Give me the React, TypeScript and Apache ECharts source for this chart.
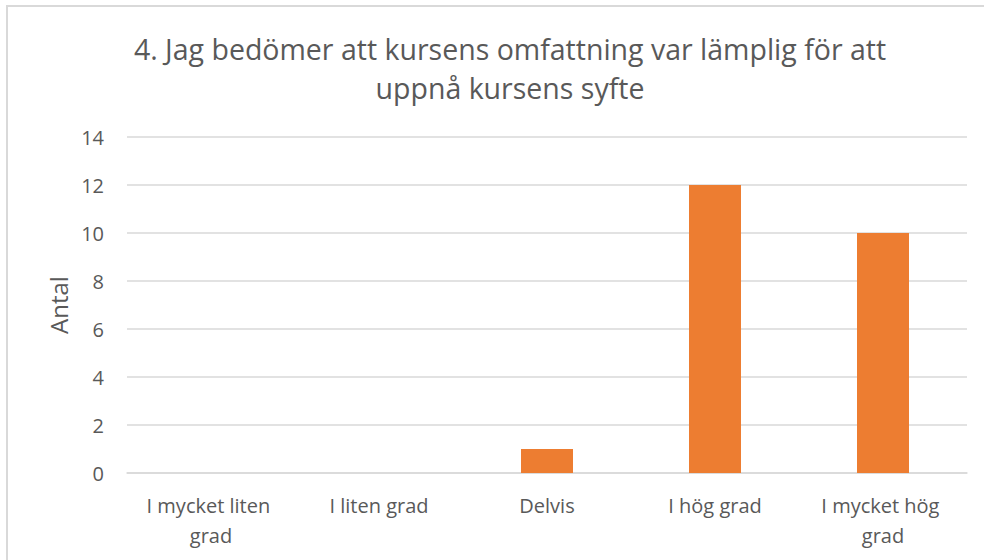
import React, { useEffect, useRef } from "react";
import * as echarts from "echarts";

const titleText = "4. Jag bedömer att kursens omfattning var lämplig för att\nuppnå kursens syfte";
const categories = ["I mycket liten grad", "I liten grad", "Delvis", "I hög grad", "I mycket hög grad"];
const values = [0, 0, 1, 12, 10];
const yAxisName = "Antal";

export default function App() {
  const ref = useRef<HTMLDivElement>(null);
  useEffect(() => {
    const chart = echarts.init(ref.current!, null, { renderer: "svg" });
    const font = "'Open Sans', sans-serif";
    chart.setOption({
      animation: false,
      backgroundColor: "#ffffff",
      title: {
        text: titleText,
        left: 505,
        textAlign: "center",
        top: 24,
        textStyle: { fontFamily: font, fontSize: 28.5, fontWeight: "normal", color: "#595959", lineHeight: 39 },
      },
      grid: { left: 127, right: 17, top: 137, bottom: 87 },
      xAxis: {
        type: "category",
        data: categories,
        axisLine: { show: true, lineStyle: { color: "#d9d9d9", width: 1.5 } },
        axisTick: { show: false },
        axisLabel: {
          interval: 0,
          color: "#595959",
          fontFamily: font,
          fontSize: 20,
          margin: 17,
          lineHeight: 30,
          width: 150,
          overflow: "break",
        },
      },
      yAxis: {
        type: "value",
        min: 0,
        max: 14,
        interval: 2,
        name: yAxisName,
        nameLocation: "middle",
        nameGap: 54,
        nameRotate: 90,
        nameTextStyle: { color: "#595959", fontFamily: font, fontSize: 24 },
        axisLine: { show: false },
        axisTick: { show: false },
        splitLine: { lineStyle: { color: "#d9d9d9", width: 1.5 } },
        axisLabel: { color: "#595959", fontFamily: font, fontSize: 20, margin: 23 },
      },
      series: [
        {
          type: "bar",
          data: values,
          barWidth: 52,
          itemStyle: { color: "#ed7d31" },
        },
      ],
    });
    return () => chart.dispose();
  }, []);
  return (
    <div style={{ position: "fixed", left: 0, top: 0, width: 984, height: 560, background: "#fff" }}>
      <div ref={ref} style={{ position: "absolute", left: 0, top: 0, width: 984, height: 560 }} />
      <div
        style={{
          position: "absolute",
          left: 6,
          top: 5,
          width: 990,
          height: 570,
          border: "2px solid #d9d9d9",
          pointerEvents: "none",
        }}
      />
    </div>
  );
}
